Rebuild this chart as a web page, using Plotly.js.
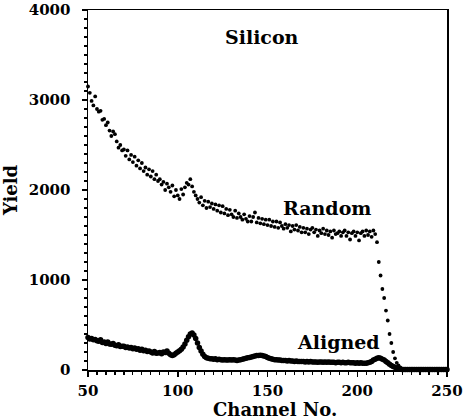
<!DOCTYPE html>
<html>
<head>
<meta charset="utf-8">
<script src="https://cdn.plot.ly/plotly-3.0.1.min.js"></script>
<style>
  html, body { margin: 0; padding: 0; background: #fff; }
  #chart { width: 463px; height: 420px; }
</style>
</head>
<body>
<div id="chart"></div>
<script>
// Channel numbers (x)
const channels = [
  50,51,52,53,54,55,56,57,58,59,
  60,61,62,63,64,65,66,67,68,69,
  70,71,72,73,74,75,76,77,78,79,
  80,81,82,83,84,85,86,87,88,89,
  90,91,92,93,94,95,96,97,98,99,
  100,101,102,103,104,105,106,107,108,109,
  110,111,112,113,114,115,116,117,118,119,
  120,121,122,123,124,125,126,127,128,129,
  130,131,132,133,134,135,136,137,138,139,
  140,141,142,143,144,145,146,147,148,149,
  150,151,152,153,154,155,156,157,158,159,
  160,161,162,163,164,165,166,167,168,169,
  170,171,172,173,174,175,176,177,178,179,
  180,181,182,183,184,185,186,187,188,189,
  190,191,192,193,194,195,196,197,198,199,
  200,201,202,203,204,205,206,207,208,209,
  210,211,212,213,214,215,216,217,218,219,
  220,221,222,223,224,225,226,227,228,229,
  230,231,232,233,234,235,236,237,238,239,
  240,241,242,243,244,245,246,247,248,249,250
];

// Random-direction yield
const randomYield = [
  3150,3080,2990,2940,3040,2900,2870,2880,2780,2790,
  2720,2750,2660,2600,2650,2620,2540,2470,2500,2440,
  2450,2380,2440,2340,2390,2310,2370,2270,2330,2240,
  2300,2210,2250,2170,2230,2150,2210,2120,2170,2100,
  2120,2060,2090,2000,2070,2030,1980,2050,1930,2000,
  1940,1900,2010,1950,2030,2080,2060,2120,2040,1980,
  1940,1900,1860,1920,1830,1880,1800,1870,1810,1850,
  1790,1840,1770,1830,1750,1820,1740,1790,1720,1780,
  1730,1700,1770,1690,1740,1700,1670,1730,1680,1650,
  1710,1650,1700,1750,1640,1690,1630,1680,1620,1670,
  1610,1670,1600,1650,1590,1650,1580,1640,1600,1570,
  1620,1580,1610,1540,1600,1560,1610,1550,1590,1530,
  1580,1530,1570,1510,1560,1580,1530,1560,1490,1550,
  1520,1570,1510,1550,1500,1540,1470,1550,1510,1520,
  1540,1490,1530,1550,1490,1530,1450,1520,1540,1490,
  1530,1440,1520,1540,1490,1550,1500,1540,1480,1550,
  1510,1420,1200,1050,900,800,660,550,400,300,
  200,130,80,50,30,15,8,5,5,5,
  5,5,5,5,5,5,5,5,5,5,
  5,5,5,5,5,5,5,5,5,5,5
];

// Aligned (channeling) yield
const alignedYield = [
  360,345,350,335,340,325,320,335,305,310,
  295,310,290,285,295,275,270,280,260,265,
  265,250,255,245,250,235,245,230,235,220,
  230,215,220,205,210,200,190,205,185,190,
  195,180,200,195,210,185,170,160,170,185,
  200,215,230,255,290,330,370,400,410,390,
  350,300,250,210,175,150,135,130,125,125,
  120,125,115,120,115,110,115,110,110,115,
  110,115,110,105,110,115,120,125,130,135,
  140,145,150,155,160,160,165,160,155,150,
  140,130,125,120,115,115,110,110,105,105,
  105,100,105,100,100,95,100,95,95,95,
  95,90,95,90,95,90,90,90,85,90,
  90,85,90,85,90,85,85,85,80,85,
  85,80,85,80,80,85,80,80,80,75,
  80,75,80,75,75,75,80,85,95,110,
  120,130,135,130,120,110,95,80,65,50,
  40,30,20,12,8,5,5,5,5,5,
  5,5,5,5,5,5,5,5,5,5,
  5,5,5,5,5,5,5,5,5,5,5
];

const xTickVals = [50, 100, 150, 200, 250];
const yTickVals = [0, 1000, 2000, 3000, 4000];

const FONT = '"DejaVu Serif", "Liberation Serif", serif';

const traces = [
  {
    x: channels, y: randomYield, name: 'Random',
    type: 'scatter', mode: 'markers', cliponaxis: false,
    marker: { color: '#000', size: 3.8 },
    hoverinfo: 'skip'
  },
  {
    x: channels, y: alignedYield, name: 'Aligned',
    type: 'scatter', mode: 'markers', cliponaxis: false,
    marker: { color: '#000', size: 5.5 },
    hoverinfo: 'skip'
  }
];

const layout = {
  width: 463, height: 420,
  margin: { l: 88, r: 16, t: 10, b: 50 },
  paper_bgcolor: '#fff', plot_bgcolor: '#fff',
  showlegend: false,
  font: { family: FONT, color: '#000' },
  xaxis: {
    range: [50, 250], tickvals: xTickVals, ticktext: xTickVals.map(String),
    showgrid: false, zeroline: false,
    showline: true, linecolor: '#000', linewidth: 1.5, mirror: true,
    ticks: 'outside', ticklen: 5, tickwidth: 1.5, tickcolor: '#000',
    minor: { dtick: 5, tick0: 50, ticks: 'outside', ticklen: 3, tickwidth: 1.2, tickcolor: '#000', showgrid: false },
    tickfont: { family: FONT, size: 15, color: '#000', weight: 'bold' },
    ticklabelstandoff: 1
  },
  yaxis: {
    range: [0, 4000], tickvals: yTickVals, ticktext: yTickVals.map(String),
    showgrid: false, zeroline: false,
    showline: true, linecolor: '#000', linewidth: 1.5, mirror: true,
    ticks: 'outside', ticklen: 5, tickwidth: 1.5, tickcolor: '#000',
    minor: { dtick: 100, tick0: 0, ticks: 'outside', ticklen: 3, tickwidth: 1.2, tickcolor: '#000', showgrid: false },
    tickfont: { family: FONT, size: 15, color: '#000', weight: 'bold' },
    ticklabelstandoff: 8,
    title: { text: 'Yield', font: { family: FONT, size: 18, color: '#000', weight: 'bold' }, standoff: 8 }
  },
  annotations: [
    { text: 'Channel No.', xref: 'paper', yref: 'paper', x: 0.52, y: -0.078, xanchor: 'center', yanchor: 'top',
      showarrow: false, borderpad: 0, font: { family: FONT, size: 18, color: '#000', weight: 'bold' } },
    { text: 'Silicon', xref: 'x', yref: 'y', x: 147, y: 3705, showarrow: false,
      font: { family: FONT, size: 19, color: '#000', weight: 'bold' } },
    { text: 'Random', xref: 'x', yref: 'y', x: 183, y: 1800, showarrow: false,
      font: { family: FONT, size: 19, color: '#000', weight: 'bold' } },
    { text: 'Aligned', xref: 'x', yref: 'y', x: 189.5, y: 310, showarrow: false,
      font: { family: FONT, size: 19, color: '#000', weight: 'bold' } }
  ]
};

Plotly.newPlot('chart', traces, layout, { staticPlot: true, displayModeBar: false });
</script>
</body>
</html>
